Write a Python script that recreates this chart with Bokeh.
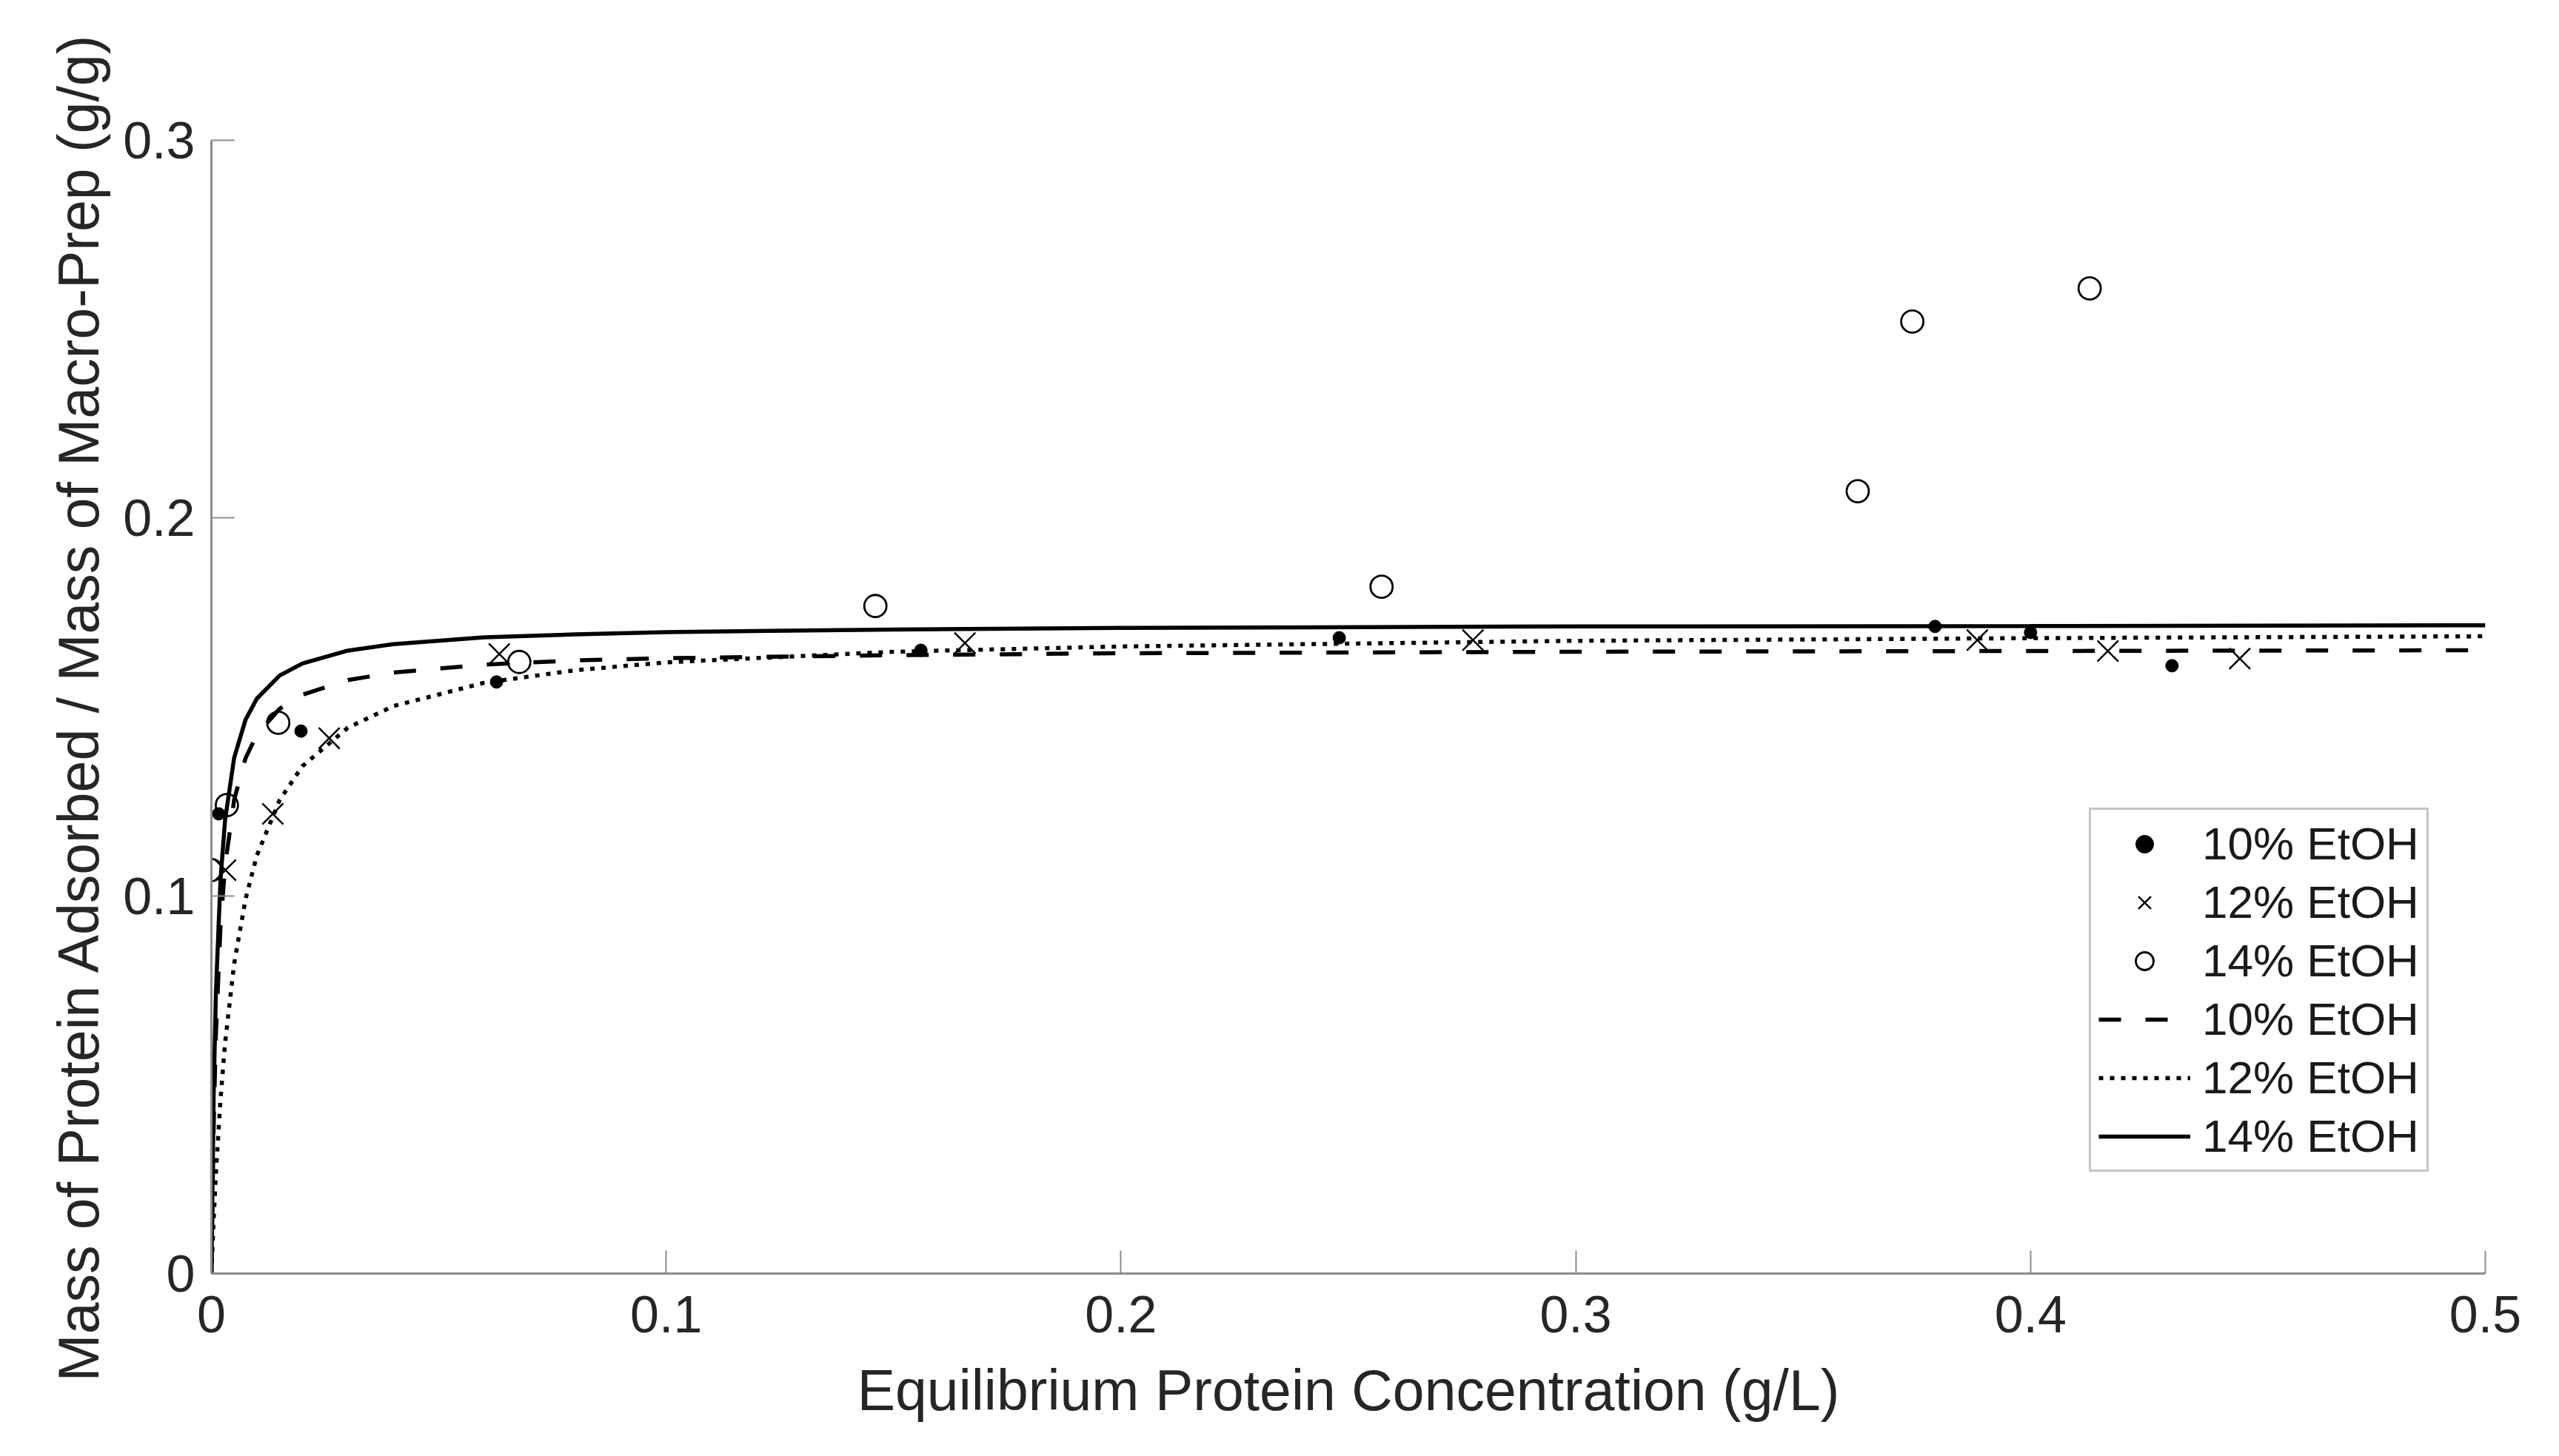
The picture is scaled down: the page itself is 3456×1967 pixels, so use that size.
from bokeh.plotting import figure
from bokeh.models import Range1d, FixedTicker, Legend, LegendItem
from bokeh.embed import file_html
from bokeh.resources import INLINE

# ---- data ----
x_ticks = [0, 0.1, 0.2, 0.3, 0.4, 0.5]
x_tick_labels = ["0", "0.1", "0.2", "0.3", "0.4", "0.5"]
y_ticks = [0, 0.1, 0.2, 0.3]
y_tick_labels = ["0", "0.1", "0.2", "0.3"]

# measured points
c10 = [0.0016, 0.0197, 0.0627, 0.1560, 0.2480, 0.3790, 0.4000, 0.4311]
q10 = [0.1217, 0.1436, 0.1566, 0.1650, 0.1683, 0.1713, 0.1697, 0.1609]
c12 = [0.0031, 0.0135, 0.0259, 0.0633, 0.1657, 0.2774, 0.3883, 0.4170, 0.4460]
q12 = [0.1068, 0.1217, 0.1417, 0.1640, 0.1669, 0.1677, 0.1677, 0.1648, 0.1628]
c14 = [0.0000, 0.0034, 0.0147, 0.0677, 0.1460, 0.2573, 0.3620, 0.3740, 0.4130]
q14 = [0.1068, 0.1240, 0.1458, 0.1619, 0.1767, 0.1818, 0.2071, 0.2520, 0.2608]

# fitted curves
c_fit = [0, 0.0005, 0.001, 0.002, 0.003, 0.005, 0.0075, 0.01, 0.015, 0.02,
         0.03, 0.04, 0.06, 0.08, 0.1, 0.15, 0.2, 0.3, 0.4, 0.5]
fit10 = [0, 0.0394, 0.0637, 0.0919, 0.1079, 0.1254, 0.1364, 0.1427, 0.1495, 0.1532,
         0.1571, 0.1591, 0.1612, 0.1623, 0.1629, 0.1637, 0.1642, 0.1646, 0.1648, 0.1650]
fit12 = [0, 0.0144, 0.0266, 0.0461, 0.0609, 0.0820, 0.0991, 0.1107, 0.1253, 0.1343,
         0.1445, 0.1502, 0.1564, 0.1597, 0.1618, 0.1646, 0.1660, 0.1675, 0.1682, 0.1687]
fit14 = [0, 0.0478, 0.0748, 0.1042, 0.1200, 0.1365, 0.1466, 0.1522, 0.1583, 0.1615,
         0.1649, 0.1666, 0.1684, 0.1692, 0.1698, 0.1705, 0.1709, 0.1713, 0.1714, 0.1716]

labels = ["10% EtOH", "12% EtOH", "14% EtOH"]

FONT = "Liberation Sans"
TXT = "#262626"
AX = "#8c8c8c"

p = figure(frame_width=3071, frame_height=1531,
           min_border_left=285, min_border_top=189, min_border_right=84, min_border_bottom=230,
           x_range=Range1d(0, 0.5), y_range=Range1d(0, 0.3),
           output_backend="svg", toolbar_location=None)
p.outline_line_color = None
p.xgrid.grid_line_color = None
p.ygrid.grid_line_color = None
p.background_fill_color = "white"
p.border_fill_color = "white"

r_d10 = p.line(c_fit, fit10, line_color="black", line_width=5.5, line_dash="30 33")
r_d12 = p.line(c_fit, fit12, line_color="black", line_width=5.5, line_dash="6 9")
r_d14 = p.line(c_fit, fit14, line_color="black", line_width=5.5)

r_p10 = p.scatter(c10, q10, marker="circle", size=17, fill_color="black", line_color="black")
r_p12 = p.scatter(c12, q12, marker="x", size=40, line_color="black", line_width=2.5)
r_p14 = p.scatter(c14, q14, marker="circle", size=30, fill_color=None,
                  line_color="black", line_width=2.8)

for ax, ticks, tl in ((p.xaxis, x_ticks, x_tick_labels), (p.yaxis, y_ticks, y_tick_labels)):
    ax.ticker = FixedTicker(ticks=ticks)
    ax.major_label_overrides = dict(zip(ticks, tl))
    ax.minor_tick_line_color = None
    ax.major_tick_in = 31
    ax.major_tick_out = 0
    ax.major_tick_line_color = AX
    ax.major_tick_line_width = 2
    ax.axis_line_color = AX
    ax.axis_line_width = 3
    ax.major_label_text_font = FONT
    ax.major_label_text_font_size = "70px"
    ax.major_label_text_color = TXT
    ax.axis_label_text_font = FONT
    ax.axis_label_text_font_size = "77px"
    ax.axis_label_text_font_style = "normal"
    ax.axis_label_text_color = TXT

p.xaxis.axis_label = "Equilibrium Protein Concentration (g/L)"
p.yaxis.axis_label = "Mass of Protein Adsorbed / Mass of Macro-Prep (g/g)"
p.xaxis.major_label_standoff = 30
p.yaxis.major_label_standoff = 22
p.xaxis.axis_label_standoff = 32
p.yaxis.axis_label_standoff = 14

legend = Legend(items=[
    LegendItem(label=labels[0], renderers=[r_p10]),
    LegendItem(label=labels[1], renderers=[r_p12]),
    LegendItem(label=labels[2], renderers=[r_p14]),
    LegendItem(label=labels[0], renderers=[r_d10]),
    LegendItem(label=labels[1], renderers=[r_d12]),
    LegendItem(label=labels[2], renderers=[r_d14]),
], location=(2536, 137))
legend.label_text_font = FONT
legend.label_text_font_size = "62px"
legend.label_text_color = "#1a1a1a"
legend.glyph_width = 124
legend.glyph_height = 60
legend.label_height = 60
legend.label_standoff = 16
legend.padding = 10
legend.spacing = 8
legend.margin = 0
legend.border_line_color = AX
legend.border_line_width = 3
legend.background_fill_color = "white"
legend.background_fill_alpha = 1.0
p.add_layout(legend)

open("out.html", "w").write(file_html(p, INLINE))
